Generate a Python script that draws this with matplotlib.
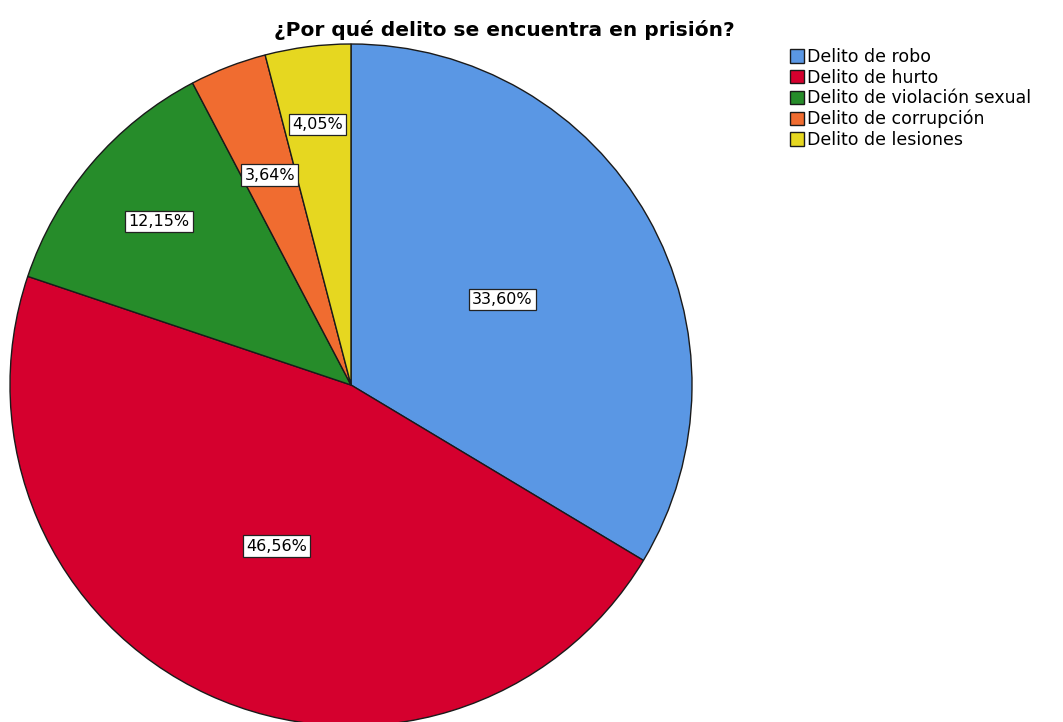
import matplotlib.pyplot as plt
import numpy as np

categories = ['Delito de robo', 'Delito de hurto', 'Delito de violación sexual',
              'Delito de corrupción', 'Delito de lesiones']
percentages = [33.60, 46.56, 12.15, 3.64, 4.05]
colors = ['#5A97E4', '#D5002E', '#268C2A', '#F06C30', '#E6D720']
# how far out (fraction of radius) each value box sits
label_radius = [0.51, 0.52, 0.74, 0.66, 0.77]

plt.rcParams['font.family'] = ['DejaVu Sans']

W, H = 1063, 722
fig = plt.figure(figsize=(W / 100, H / 100), dpi=100)

# pie centre (351, 385) px from top-left, radius 341 px
cx, cy, r = 351, 385, 341
ax = fig.add_axes([(cx - r) / W, (H - cy - r) / H, 2 * r / W, 2 * r / H])
wedges, _ = ax.pie(percentages, colors=colors, startangle=90, counterclock=False,
                   radius=1, wedgeprops=dict(edgecolor='#1a1a1a', linewidth=1.0))
ax.set_xlim(-1, 1)
ax.set_ylim(-1, 1)
ax.set_aspect('equal')

start = 90.0
for p, rr in zip(percentages, label_radius):
    span = p / 100 * 360
    mid = np.deg2rad(start - span / 2)
    start -= span
    txt = ('%.2f%%' % p).replace('.', ',')
    ax.text(rr * np.cos(mid), rr * np.sin(mid), txt, ha='center', va='center',
            fontsize=11.5,
            bbox=dict(boxstyle='square,pad=0.2', facecolor='white',
                      edgecolor='#222222', linewidth=0.9))

fig.text(504 / W, 1 - 30 / H, '¿Por qué delito se encuentra en prisión?',
         ha='center', va='center', fontsize=14.5, fontweight='bold')

fig.legend(wedges, categories, loc='upper left',
           bbox_to_anchor=(790 / W, 1 - 48 / H), frameon=False,
           fontsize=12.5, handlelength=0.8, handleheight=0.8,
           handletextpad=0.2, labelspacing=0.15, borderaxespad=0,
           borderpad=0)

fig.savefig('out.png', dpi=100)
